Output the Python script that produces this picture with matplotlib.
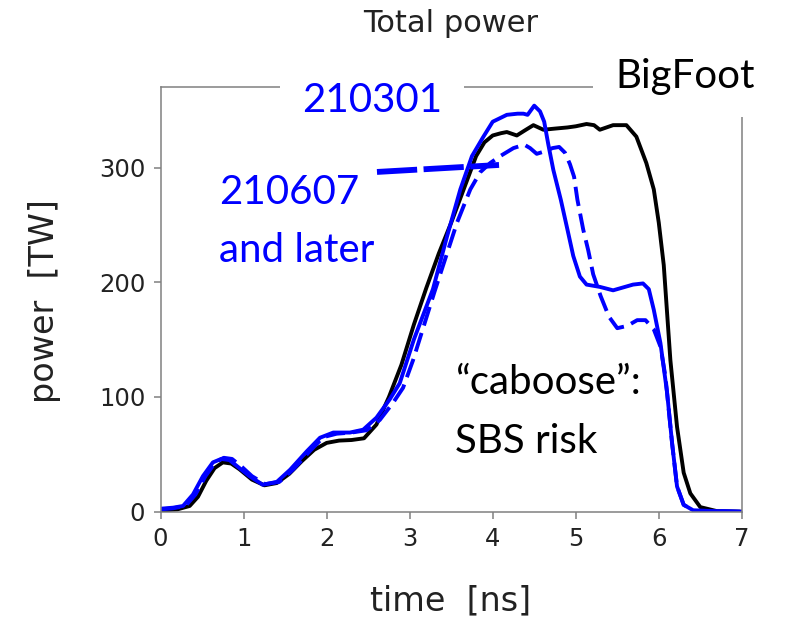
import matplotlib
matplotlib.use("Agg")
import matplotlib.pyplot as plt

# Laser pulse shapes: total power vs time
t_bigfoot = [0, 0.2, 0.35, 0.45, 0.55, 0.65, 0.75, 0.85, 0.95, 1.1, 1.25, 1.4, 1.55,
             1.7, 1.85, 2.0, 2.15, 2.3, 2.45, 2.6, 2.75, 2.9, 3.05, 3.2, 3.35, 3.5,
             3.65, 3.8, 3.9, 4.0, 4.1, 4.17, 4.29, 4.4, 4.49, 4.61, 4.75, 4.9, 5.0,
             5.13, 5.22, 5.29, 5.37, 5.45, 5.61, 5.73, 5.85, 5.94, 6.0, 6.06, 6.14,
             6.22, 6.3, 6.38, 6.5, 6.7, 7.0]
p_bigfoot = [1, 2, 5, 13, 27, 38, 43, 42, 37, 28, 23, 25, 33,
             44, 54, 60, 62, 62.5, 64, 76, 100, 128, 163, 195, 225, 252,
             281, 310, 322, 328, 330, 331, 328, 333, 337, 333, 334, 335, 336,
             338, 337, 333, 335, 337, 337, 327, 304, 281, 252, 215, 132,
             74, 34, 16, 4, 0.5, 0]

t_210301 = [0, 0.15, 0.27, 0.39, 0.51, 0.63, 0.73, 0.83, 0.95, 1.07, 1.23, 1.4, 1.56,
            1.76, 1.92, 2.08, 2.28, 2.44, 2.6, 2.76, 2.88, 3.05, 3.28, 3.45, 3.61,
            3.75, 3.88, 4.0, 4.17, 4.3, 4.37, 4.42, 4.5, 4.57, 4.62, 4.67, 4.73,
            4.82, 4.9, 4.97, 5.05, 5.13, 5.29, 5.45, 5.69, 5.81, 5.88, 5.94, 6.02,
            6.1, 6.16, 6.22, 6.3, 6.42, 7.0]
p_210301 = [2.6, 3.5, 5, 15, 31, 43, 46, 45, 38, 31, 23.5, 26, 36.6,
            52.6, 64.5, 69, 69, 71.5, 82, 98, 112, 150, 194, 240, 281,
            310, 326, 340, 346, 347, 347, 346, 354, 349, 340, 320, 298,
            272, 246, 223, 205, 198, 196, 193, 198, 199, 194, 176, 147,
            104, 60, 22, 6, 1, 0]

t_210607 = [0, 0.15, 0.3, 0.42, 0.54, 0.66, 0.76, 0.86, 0.98, 1.1, 1.26, 1.43, 1.6,
            1.8, 1.96, 2.12, 2.3, 2.48, 2.64, 2.8, 2.92, 3.04, 3.3, 3.57, 3.73,
            3.85, 3.97, 4.09, 4.25, 4.38, 4.45, 4.53, 4.62, 4.72, 4.8, 4.87, 4.93,
            4.98, 5.02, 5.09, 5.15, 5.21, 5.3, 5.4, 5.5, 5.62, 5.74, 5.84, 5.94,
            6.02, 6.08, 6.12, 6.16, 6.22, 6.3, 6.42, 7.0]
p_210607 = [2, 3, 5, 15, 31, 43, 47, 46, 39, 31, 24, 26, 37,
            53, 65, 68, 69, 71, 80, 95, 108, 132, 192, 252, 281,
            296, 304, 310, 317, 320, 317, 312, 314, 317, 318, 313, 303,
            292, 272, 246, 228, 207, 188, 170, 160, 162, 167, 167, 159,
            144, 118, 89, 60, 22, 6, 1, 0]

# pointer from the "210607" label to its curve
pointer_t = [2.606, 4.076]
pointer_p = [296.2, 302.3]

x_ticks = [0, 1, 2, 3, 4, 5, 6, 7]
y_ticks = [0, 100, 200, 300]

W, H = 790, 619
fig = plt.figure(figsize=(W / 100, H / 100), dpi=100)
ax = fig.add_axes([160.6 / W, 1 - 511.7 / H, (741.8 - 160.6) / W, (511.7 - 87.3) / H])

blue = "#0000ff"
ax.plot(t_bigfoot, p_bigfoot, color="black", lw=2.8, solid_joinstyle="round")
ax.plot(t_210301, p_210301, color=blue, lw=2.8, solid_joinstyle="round")
ax.plot(t_210607, p_210607, color=blue, lw=2.8, linestyle=(0, (5, 2)))
ax.plot(pointer_t, pointer_p, color=blue, lw=4.2, linestyle=(0, (6.9, 1.1)))

ax.set_xlim(0, 7)
ax.set_ylim(0, 370)
ax.set_xticks(x_ticks)
ax.set_yticks(y_ticks)
ax.tick_params(labelsize=17.5, length=5, width=1.1, color="#808080",
               labelcolor="#222222", pad=6)
for s in ax.spines.values():
    s.set_color("#808080")
    s.set_linewidth(1.1)

dark = "#222222"
fig.text(451 / W, 1 - 32 / H, "Total power", ha="center", va="baseline",
         fontsize=22, color=dark)
fig.text(451 / W, 1 - 610 / H, "time  [ns]", ha="center", va="baseline",
         fontsize=24, color=dark)
fig.text(45 / W, 1 - 301 / H, "power  [TW]", ha="center", va="center",
         rotation=90, fontsize=24, color=dark)

ann_font = ["Lato", "DejaVu Sans"]
ann_size = 29
box = dict(boxstyle="square,pad=0.55", fc="white", ec="none")

fig.text(301.7 / W, 1 - 111.7 / H, "210301", ha="left", va="baseline",
         fontsize=ann_size, family=ann_font, color=blue, bbox=box)
fig.text(615 / W, 1 - 88.3 / H, "BigFoot", ha="left", va="baseline",
         fontsize=ann_size, family=ann_font, color="black", bbox=box)
for line, base in [("210607", 204), ("and later", 261.7)]:
    fig.text(219 / W, 1 - base / H, line, ha="left", va="baseline",
             fontsize=ann_size, family=ann_font, color=blue)
for line, base in [("\u201ccaboose\u201d:", 394.3), ("SBS risk", 453.3)]:
    fig.text(455 / W, 1 - base / H, line, ha="left", va="baseline",
             fontsize=ann_size, family=ann_font, color="black")

fig.savefig("out.png", dpi=100)
